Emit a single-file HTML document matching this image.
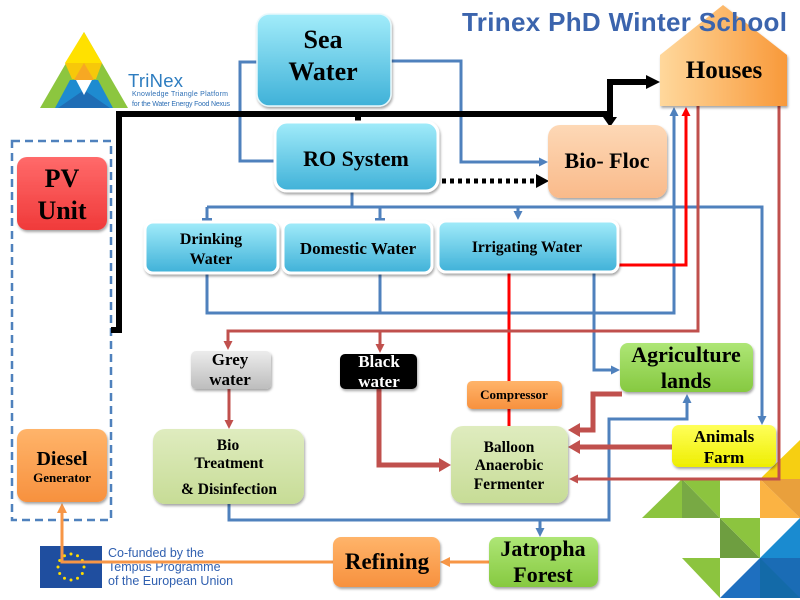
<!DOCTYPE html>
<html><head><meta charset="utf-8">
<style>
html,body{margin:0;padding:0;background:#fff;}
svg{display:block;}
.t{font-family:"Liberation Serif",serif;font-weight:bold;fill:#000;text-anchor:middle;}
.s{font-family:"Liberation Sans",sans-serif;}
</style></head><body>
<svg width="800" height="600" viewBox="0 0 800 600" xmlns="http://www.w3.org/2000/svg">
<defs>
<linearGradient id="gc" x1="0" y1="0" x2="0" y2="1"><stop offset="0" stop-color="#a2ecfa"/><stop offset="1" stop-color="#3fb1d8"/></linearGradient>
<linearGradient id="gp" x1="0" y1="0" x2="0" y2="1"><stop offset="0" stop-color="#fdd8b6"/><stop offset="1" stop-color="#f9ba8a"/></linearGradient>
<linearGradient id="gh" x1="0" y1="0" x2="1" y2="0"><stop offset="0" stop-color="#ffd89c"/><stop offset="1" stop-color="#f8993a"/></linearGradient>
<linearGradient id="gr" x1="0" y1="0" x2="0" y2="1"><stop offset="0" stop-color="#ff6a6a"/><stop offset="1" stop-color="#f03a3a"/></linearGradient>
<linearGradient id="go" x1="0" y1="0" x2="0" y2="1"><stop offset="0" stop-color="#ffb46a"/><stop offset="1" stop-color="#f7913e"/></linearGradient>
<linearGradient id="gg" x1="0" y1="0" x2="0" y2="1"><stop offset="0" stop-color="#aee676"/><stop offset="1" stop-color="#86c940"/></linearGradient>
<linearGradient id="gl" x1="0" y1="0" x2="0" y2="1"><stop offset="0" stop-color="#dfecbf"/><stop offset="1" stop-color="#c7dc96"/></linearGradient>
<linearGradient id="gy" x1="0" y1="0" x2="0" y2="1"><stop offset="0" stop-color="#ffff5a"/><stop offset="1" stop-color="#eeee00"/></linearGradient>
<linearGradient id="gq" x1="0" y1="0" x2="0" y2="1"><stop offset="0" stop-color="#ececec"/><stop offset="1" stop-color="#bdbdbd"/></linearGradient>
<filter id="sh" x="-10%" y="-10%" width="130%" height="140%"><feDropShadow dx="1" dy="2" stdDeviation="1.3" flood-color="#000" flood-opacity="0.35"/></filter>
</defs>

<!-- mosaic -->
<polygon points="800,440 760,479 800,479" fill="#f6cf12"/>
<polygon points="760,479 760,518 800,518" fill="#fbb343"/>
<polygon points="760,479 800,479 800,518" fill="#e9a03c"/>
<polygon points="682,479 642,518 682,518" fill="#8cc43f"/>
<polygon points="682,479 682,518 720,518" fill="#78a944"/>
<polygon points="682,479 720,479 720,518" fill="#8cc43f"/>
<polygon points="720,518 720,558 760,558" fill="#6e9e40"/>
<polygon points="720,518 760,518 760,558" fill="#8cc43f"/>
<polygon points="800,518 760,558 800,558" fill="#1a8bd0"/>
<polygon points="682,558 720,558 720,598" fill="#8cc43f"/>
<polygon points="760,558 720,598 760,598" fill="#1e6fbf"/>
<rect x="760" y="558" width="40" height="40" fill="#1a6cb5"/>
<polygon points="760,558 800,598 760,598" fill="#136aa8"/>

<!-- logo -->
<polygon points="84,32 40,108 128,108" fill="#8cc63f"/>
<polygon points="84,32 65,63 102,63" fill="#ffe100"/>
<polygon points="65,63 102,63 96,79 72,79" fill="#f7c80a"/>
<polygon points="70,80 98,80 113,108 55,108" fill="#1e8bd0"/>
<polygon points="84,90 58,108 110,108" fill="#1f6db5"/>
<polygon points="84,63 74,80 94,80" fill="#f7a823"/>
<polygon points="76,80 92,80 84,95" fill="#fff"/>
<text x="128" y="87" class="s" font-size="18.5" fill="#2e7dc0" textLength="55">TriNex</text>
<text x="132" y="96" class="s" font-size="7" fill="#2e6fb5" textLength="96">Knowledge Triangle Platform</text>
<text x="132" y="106" class="s" font-size="7" fill="#2e6fb5" textLength="98">for the Water Energy Food Nexus</text>

<!-- EU flag -->
<rect x="40" y="546" width="62" height="42" fill="#1f4e9f"/>
<g fill="#ffdd00">
<circle cx="71" cy="554" r="1.5"/><circle cx="77.5" cy="555.7" r="1.5"/><circle cx="82.3" cy="560.5" r="1.5"/><circle cx="84" cy="567" r="1.5"/><circle cx="82.3" cy="573.5" r="1.5"/><circle cx="77.5" cy="578.3" r="1.5"/><circle cx="71" cy="580" r="1.5"/><circle cx="64.5" cy="578.3" r="1.5"/><circle cx="59.7" cy="573.5" r="1.5"/><circle cx="58" cy="567" r="1.5"/><circle cx="59.7" cy="560.5" r="1.5"/><circle cx="64.5" cy="555.7" r="1.5"/>
</g>
<text class="s" font-size="12.5" fill="#3060b0"><tspan x="108" y="557">Co-funded by the</tspan><tspan x="108" y="571">Tempus Programme</tspan><tspan x="108" y="585">of the European Union</tspan></text>

<!-- dashed container -->
<rect x="12" y="141" width="99" height="379" fill="none" stroke="#4f81bd" stroke-width="2.5" stroke-dasharray="8 5"/>

<!-- blue connectors -->
<g fill="none" stroke="#4f81bd" stroke-width="3">
<polyline points="272,62 240,62 240,161 276,161"/>
<polyline points="390,61 461,61 461,162 540,162"/>
<polyline points="352,191 352,207"/>
<polyline points="207,207 762,207 762,416"/>
<polyline points="207,207 207,219"/>
<polyline points="380,207 380,219"/>
<polyline points="518,207 518,212"/>
<polyline points="207,274 207,313 674,313 674,115"/>
<polyline points="380,274 380,313"/>
<polyline points="594,272 594,370 612,370"/>
<polyline points="229,504 229,520 609,520 609,419 687,419 687,402"/>
<polyline points="540,520 540,529"/>
</g>
<g fill="#4f81bd">
<polygon points="548,162 539,157.5 539,166.5"/>
<polygon points="762,425 757.5,416 766.5,416"/>
<rect x="202" y="218" width="10" height="2.5"/>
<rect x="375" y="218" width="10" height="2.5"/>
<polygon points="518,220 513.5,211 522.5,211"/>
<polygon points="674,107 669.5,116 678.5,116"/>
<polygon points="620,370 611,365.5 611,374.5"/>
<polygon points="687,394 682.5,403 691.5,403"/>
<polygon points="540,537 535.5,528 544.5,528"/>
</g>

<!-- bright red -->
<g fill="none" stroke="#ff0000" stroke-width="3">
<polyline points="618,265 686,265 686,115"/>
<polyline points="509,272 509,382"/>
<polyline points="509,408 509,427"/>
</g>
<polygon points="686,107 681.5,116 690.5,116" fill="#ff0000"/>

<!-- dark red -->
<g fill="none" stroke="#c0504d" stroke-width="3">
<polyline points="698,106 698,331 228,331 228,342"/>
<polyline points="380,331 380,345"/>
<polyline points="779,106 779,479 578,479"/>
<polyline points="229,389 229,420"/>
</g>
<g fill="none" stroke="#c0504d" stroke-width="5">
<polyline points="379,389 379,465 440,465"/>
<polyline points="622,394 593,394 593,430 579,430"/>
<polyline points="672,447 579,447"/>
</g>
<g fill="#c0504d">
<polygon points="228,350 223.5,341 232.5,341"/>
<polygon points="380,353 375.5,344 384.5,344"/>
<polygon points="569,479 578,474.5 578,483.5"/>
<polygon points="229,429 224.5,420 233.5,420"/>
<polygon points="451,465 439,458 439,472"/>
<polygon points="568,430 580,423 580,437"/>
<polygon points="568,447 580,440 580,454"/>
</g>

<!-- orange -->
<g fill="none" stroke="#f79646" stroke-width="3">
<polyline points="489,562 449,562"/>
<polyline points="333,562 62,562 62,512"/>
</g>
<g fill="#f79646">
<polygon points="440,562 450,557 450,567"/>
<polygon points="62,503 57,513 67,513"/>
</g>

<!-- black -->
<g fill="none" stroke="#000" stroke-width="6">
<polyline points="111,330 119,330 119,114 610,114"/>
<polyline points="358,114 358,122"/>
<polyline points="610,114 610,82 646,82"/>
<polyline points="610,114 610,118"/>
</g>
<polygon points="660,82 646,75 646,89" fill="#000"/>
<polygon points="610,127 603,117 617,117" fill="#000"/>
<line x1="442" y1="181" x2="536" y2="181" stroke="#000" stroke-width="5" stroke-dasharray="4 4"/>
<polygon points="549,181 536,174 536,188" fill="#000"/>

<!-- boxes -->
<g filter="url(#sh)">
<rect x="257" y="14" width="134" height="92" rx="12" fill="url(#gc)" stroke="#e6f8fc" stroke-width="1.5"/>
<rect x="275" y="122" width="163" height="69" rx="12" fill="url(#gc)" stroke="#fff" stroke-width="3"/>
<rect x="145" y="222" width="133" height="51" rx="8" fill="url(#gc)" stroke="#fff" stroke-width="3"/>
<rect x="283" y="222" width="149" height="51" rx="8" fill="url(#gc)" stroke="#fff" stroke-width="3"/>
<rect x="438" y="221" width="180" height="51" rx="8" fill="url(#gc)" stroke="#fff" stroke-width="3"/>
<rect x="548" y="125" width="119" height="73" rx="12" fill="url(#gp)"/>
<polygon points="660,55 723,5 787,55 787,106 660,106" fill="url(#gh)"/>
<rect x="17" y="157" width="90" height="73" rx="10" fill="url(#gr)"/>
<rect x="17" y="429" width="90" height="73" rx="10" fill="url(#go)"/>
<rect x="191" y="351" width="80" height="38" rx="5" fill="url(#gq)"/>
<rect x="340" y="354" width="77" height="35" rx="5" fill="#000"/>
<rect x="467" y="381" width="95" height="28" rx="5" fill="url(#go)"/>
<rect x="620" y="343" width="133" height="49" rx="8" fill="url(#gg)"/>
<rect x="451" y="426" width="117" height="77" rx="12" fill="url(#gl)"/>
<rect x="672" y="425" width="104" height="42" rx="7" fill="url(#gy)"/>
<rect x="153" y="429" width="151" height="75" rx="12" fill="url(#gl)"/>
<rect x="489" y="537" width="109" height="50" rx="8" fill="url(#gg)"/>
<rect x="333" y="537" width="107" height="50" rx="8" fill="url(#go)"/>
</g>

<!-- title (drawn over the house roof) -->
<text x="462" y="31" class="s" font-size="26" font-weight="bold" fill="#3b64ad" textLength="325">Trinex PhD Winter School</text>

<!-- labels -->
<text class="t" font-size="26" x="323" y="48">Sea</text>
<text class="t" font-size="26" x="323" y="80">Water</text>
<text class="t" font-size="22" x="356" y="166">RO System</text>
<text class="t" font-size="22" x="607" y="168">Bio- Floc</text>
<text class="t" font-size="25" x="724" y="78">Houses</text>
<text class="t" font-size="26" x="62" y="187">PV</text>
<text class="t" font-size="26" x="62" y="219">Unit</text>
<text class="t" font-size="16" x="211" y="244">Drinking</text>
<text class="t" font-size="16" x="211" y="264">Water</text>
<text class="t" font-size="17" x="358" y="254">Domestic Water</text>
<text class="t" font-size="15.5" x="527" y="252">Irrigating Water</text>
<text class="t" font-size="17" x="230" y="365">Grey</text>
<text class="t" font-size="17" x="230" y="385">water</text>
<text class="t" font-size="17" x="379" y="367" style="fill:#fff">Black</text>
<text class="t" font-size="17" x="379" y="387" style="fill:#fff">water</text>
<text class="t" font-size="22" x="686" y="362">Agriculture</text>
<text class="t" font-size="22" x="686" y="388">lands</text>
<text class="t" font-size="13" x="514" y="399">Compressor</text>
<text class="t" font-size="15.5" x="509" y="452">Balloon</text>
<text class="t" font-size="15.5" x="509" y="470">Anaerobic</text>
<text class="t" font-size="15.5" x="509" y="489">Fermenter</text>
<text class="t" font-size="17" x="724" y="442">Animals</text>
<text class="t" font-size="17" x="724" y="463">Farm</text>
<text class="t" font-size="15.5" x="228" y="450">Bio</text>
<text class="t" font-size="15.5" x="229" y="468">Treatment</text>
<text class="t" font-size="15.5" x="229" y="494">&amp; Disinfection</text>
<text class="t" font-size="20" x="62" y="465">Diesel</text>
<text class="t" font-size="13" x="62" y="482">Generator</text>
<text class="t" font-size="23" x="387" y="569">Refining</text>
<text class="t" font-size="22" x="543" y="556">Jatropha</text>
<text class="t" font-size="22" x="543" y="582">Forest</text>
</svg>
</body></html>
